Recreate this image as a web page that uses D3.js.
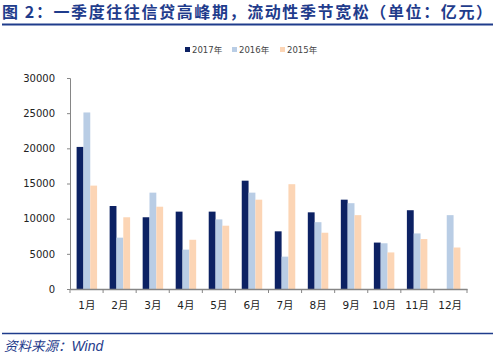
<!DOCTYPE html>
<html><head><meta charset="utf-8">
<script src="https://cdn.jsdelivr.net/npm/d3@7"></script>
<style>body{margin:0;background:#fff}svg{display:block}</style>
</head><body>
<svg id="c" width="495" height="356"></svg>
<script>
const categories = ["1月","2月","3月","4月","5月","6月","7月","8月","9月","10月","11月","12月"];
const seriesNames = ["2017年","2016年","2015年"];
const s2017 = [20200,11800,10200,11000,11000,15400,8200,10900,12700,6600,11200,null];
const s2016 = [25100,7300,13700,5600,9900,13700,4600,9500,12200,6500,7900,10500];
const s2015 = [14700,10200,11700,7000,9000,12700,14900,8000,10500,5200,7100,5900];
const yTicks = [0,5000,10000,15000,20000,25000,30000];
const colors = ["#0C2163","#B9CDE5","#FCD5B5"];
const series = [s2017,s2016,s2015];

const svg = d3.select("#c");
const cjk = "'Noto Sans CJK SC', sans-serif";

// title
svg.append("text").attr("x",2).attr("y",18)
  .attr("font-family",cjk).attr("font-weight","bold").attr("font-size",16)
  .attr("fill","#1F3C8C").attr("textLength",490).attr("lengthAdjust","spacing")
  .text("图 2：一季度往往信贷高峰期，流动性季节宽松（单位：亿元）");
svg.append("line").attr("x1",2).attr("x2",493).attr("y1",24.5).attr("y2",24.5)
  .attr("stroke","#1F3C8C").attr("stroke-width",2);

const m = {l:70, r:467, t:78, b:289};
const x0 = d3.scaleBand().domain(categories).range([m.l,m.r]).paddingInner(0.38).paddingOuter(0.2);
const x1 = d3.scaleBand().domain([0,1,2]).range([0,x0.bandwidth()]);
const y = d3.scaleLinear().domain([0,30000]).range([m.b,m.t]);

// bars
series.forEach((s,i)=>{
  svg.append("g").selectAll("rect").data(s.map((v,j)=>({v,c:categories[j]})).filter(d=>d.v!=null))
    .join("rect")
    .attr("x",d=>x0(d.c)+x1(i)).attr("width",x1.bandwidth())
    .attr("y",d=>y(d.v)).attr("height",d=>y(0)-y(d.v))
    .attr("fill",colors[i]);
});

// y axis
const ya = svg.append("g").attr("transform",`translate(${m.l},0)`)
  .call(d3.axisLeft(y).tickValues(yTicks).tickSize(3).tickPadding(12).tickFormat(d3.format("d")));
ya.select(".domain").attr("stroke","#868686");
ya.selectAll(".tick line").attr("stroke","#868686");
ya.selectAll("text").attr("font-family","'DejaVu Sans', sans-serif").attr("font-size",10).attr("fill","#222");

// x axis
const xa = svg.append("g").attr("transform",`translate(0,${m.b})`)
  .call(d3.axisBottom(x0).tickSize(0).tickPadding(13));
xa.select(".domain").attr("stroke","#868686").attr("stroke-width",1.5);
xa.selectAll("text").attr("font-family","'DejaVu Sans', "+cjk).attr("font-size",10.5).attr("fill","#222");
const bounds = d3.range(categories.length+1).map(i=>m.l + i*(m.r-m.l)/categories.length);
svg.append("g").selectAll("line").data(bounds).join("line")
  .attr("x1",d=>d).attr("x2",d=>d).attr("y1",m.b).attr("y2",m.b+4)
  .attr("stroke","#868686");

// legend
const lx = [185,232,280];
seriesNames.forEach((n,i)=>{
  svg.append("rect").attr("x",lx[i]).attr("y",47).attr("width",5).attr("height",5).attr("fill",colors[i]);
  svg.append("text").attr("x",lx[i]+7).attr("y",53).attr("font-family","'DejaVu Sans', "+cjk)
    .attr("font-size",8.5).attr("fill","#444").text(n);
});

// footer
svg.append("line").attr("x1",2).attr("x2",493).attr("y1",333.5).attr("y2",333.5)
  .attr("stroke","#1F3C8C").attr("stroke-width",1.5);
const ft = svg.append("text").attr("x",4).attr("y",351).attr("font-size",14).attr("fill","#1F3C8C").attr("font-style","italic");
ft.append("tspan").attr("font-family",cjk).attr("font-size",13.5).text("资料来源：");
ft.append("tspan").attr("font-family","'Liberation Sans', sans-serif").text("Wind");
</script>
</body></html>
